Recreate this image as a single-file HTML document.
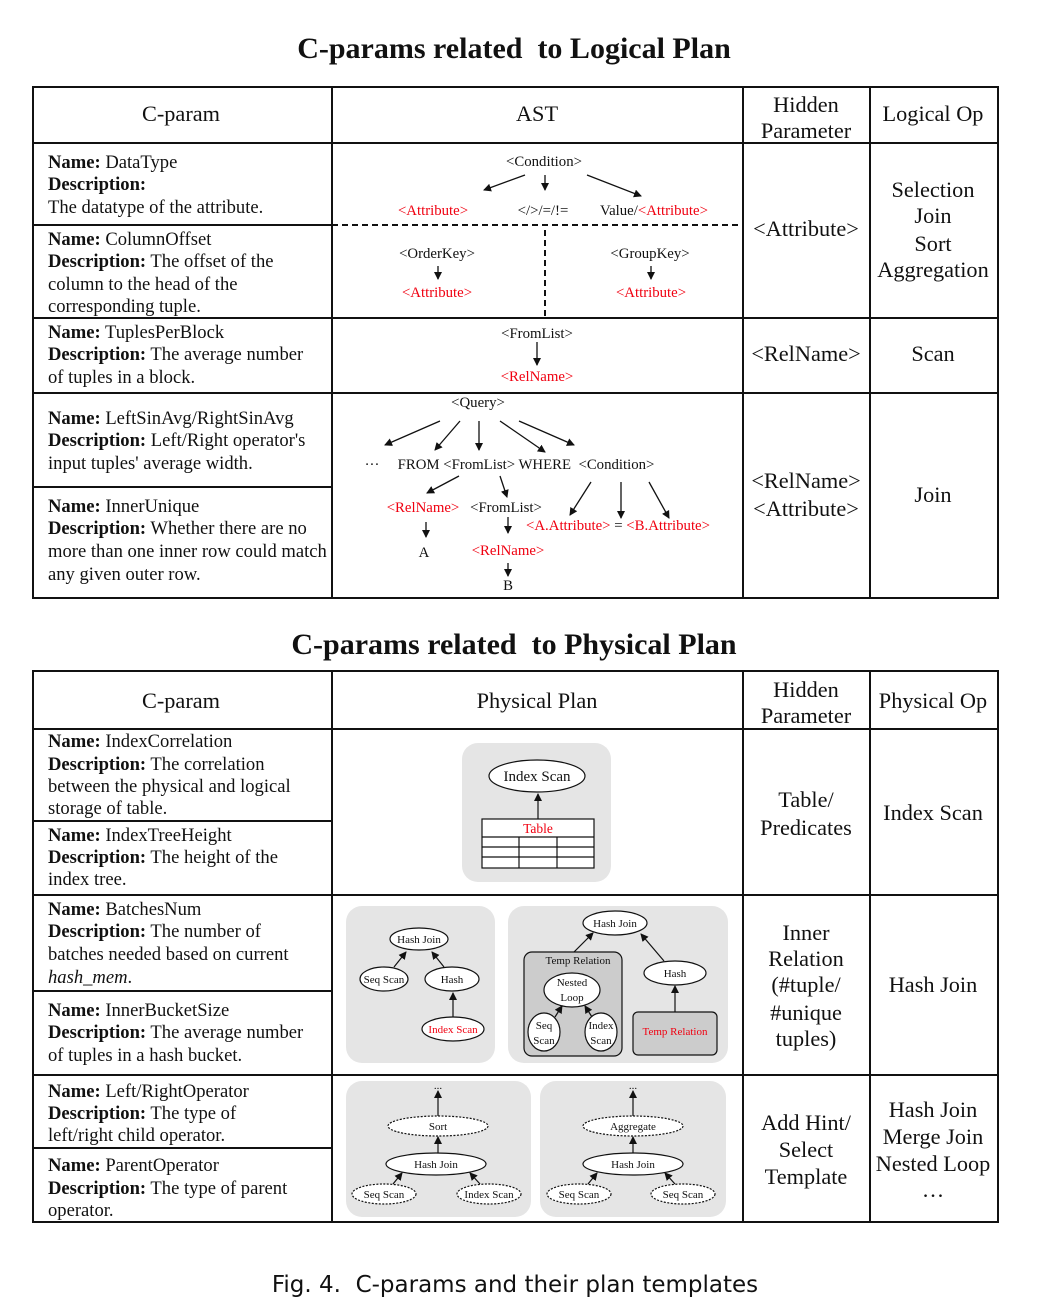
<!DOCTYPE html>
<html><head><meta charset="utf-8"><style>
html,body{margin:0;padding:0;background:#fff;}
svg{display:block;}
text{font-family:"Liberation Serif",serif;fill:#111;white-space:pre;}
.h{font-size:22.3px;text-anchor:middle;}
.l{font-size:18.6px;}
.a{font-size:14.8px;text-anchor:middle;}
.r{fill:#f00010;}
.p{font-size:11px;text-anchor:middle;}
</style></head><body>
<svg width="1054" height="1314" viewBox="0 0 1054 1314" xmlns="http://www.w3.org/2000/svg">
<defs>
<marker id="ar" markerWidth="8" markerHeight="8" refX="7" refY="4" orient="auto" markerUnits="userSpaceOnUse">
<path d="M0,0 L8,4 L0,8 z" fill="#111"/></marker>
</defs>
<text x="514" y="58" style="font-size:30px;font-weight:bold;text-anchor:middle">C-params related&#160; to Logical Plan</text>
<text x="514" y="654" style="font-size:30px;font-weight:bold;text-anchor:middle">C-params related&#160; to Physical Plan</text>
<text x="515" y="1292" style="font-family:'DejaVu Sans',sans-serif;font-size:23px;text-anchor:middle">Fig. 4.&#160; C-params and their plan templates</text>

<!-- Table 1 -->
<g stroke="#111" stroke-width="2" fill="none">
<rect x="33" y="87" width="965" height="511"/>
<line x1="332" y1="87" x2="332" y2="598"/>
<line x1="743" y1="87" x2="743" y2="598"/>
<line x1="870" y1="87" x2="870" y2="598"/>
<line x1="33" y1="143" x2="998" y2="143"/>
<line x1="33" y1="225" x2="332" y2="225"/>
<line x1="33" y1="318" x2="998" y2="318"/>
<line x1="33" y1="393" x2="998" y2="393"/>
<line x1="33" y1="487" x2="332" y2="487"/>
<line x1="332" y1="225" x2="743" y2="225" stroke-dasharray="6,4"/>
<line x1="545" y1="230" x2="545" y2="316" stroke-dasharray="6,4"/>
</g>
<text class="h" x="181" y="121">C-param</text>
<text class="h" x="537" y="121">AST</text>
<text class="h" x="806" y="112">Hidden</text>
<text class="h" x="806" y="138">Parameter</text>
<text class="h" x="933" y="121">Logical Op</text>

<text class="l" x="48" y="168"><tspan font-weight="bold">Name:</tspan> DataType</text>
<text class="l" x="48" y="190" font-weight="bold">Description:</text>
<text class="l" x="48" y="213">The datatype of the attribute.</text>
<text class="l" x="48" y="245"><tspan font-weight="bold">Name:</tspan> ColumnOffset</text>
<text class="l" x="48" y="267"><tspan font-weight="bold">Description:</tspan> The offset of the</text>
<text class="l" x="48" y="290">column to the head of the</text>
<text class="l" x="48" y="312">corresponding tuple.</text>
<text class="l" x="48" y="338"><tspan font-weight="bold">Name:</tspan> TuplesPerBlock</text>
<text class="l" x="48" y="360"><tspan font-weight="bold">Description:</tspan> The average number</text>
<text class="l" x="48" y="383">of tuples in a block.</text>
<text class="l" x="48" y="424"><tspan font-weight="bold">Name:</tspan> LeftSinAvg/RightSinAvg</text>
<text class="l" x="48" y="446"><tspan font-weight="bold">Description:</tspan> Left/Right operator's</text>
<text class="l" x="48" y="469">input tuples' average width.</text>
<text class="l" x="48" y="512"><tspan font-weight="bold">Name:</tspan> InnerUnique</text>
<text class="l" x="48" y="534"><tspan font-weight="bold">Description:</tspan> Whether there are no</text>
<text class="l" x="48" y="557">more than one inner row could match</text>
<text class="l" x="48" y="580">any given outer row.</text>

<text class="h" x="806" y="236">&lt;Attribute&gt;</text>
<text class="h" x="933" y="197">Selection</text>
<text class="h" x="933" y="223">Join</text>
<text class="h" x="933" y="251">Sort</text>
<text class="h" x="933" y="277">Aggregation</text>
<text class="h" x="806" y="361">&lt;RelName&gt;</text>
<text class="h" x="933" y="361">Scan</text>
<text class="h" x="806" y="488">&lt;RelName&gt;</text>
<text class="h" x="806" y="516">&lt;Attribute&gt;</text>
<text class="h" x="933" y="502">Join</text>

<!-- AST -->
<g stroke="#111" stroke-width="1.3" marker-end="url(#ar)">
<line x1="525" y1="175" x2="484" y2="190"/>
<line x1="545" y1="175" x2="545" y2="190"/>
<line x1="587" y1="175" x2="641" y2="196"/>
<line x1="438" y1="266" x2="438" y2="279"/>
<line x1="651" y1="266" x2="651" y2="279"/>
<line x1="537" y1="342" x2="537" y2="365"/>
<line x1="440" y1="421" x2="385" y2="445"/>
<line x1="460" y1="421" x2="435" y2="450"/>
<line x1="479" y1="421" x2="479" y2="450"/>
<line x1="500" y1="421" x2="545" y2="452"/>
<line x1="519" y1="421" x2="574" y2="445"/>
<line x1="459" y1="476" x2="427" y2="493"/>
<line x1="500" y1="476" x2="507" y2="497"/>
<line x1="426" y1="522" x2="426" y2="537"/>
<line x1="508" y1="517" x2="508" y2="533"/>
<line x1="508" y1="563" x2="508" y2="576"/>
<line x1="591" y1="482" x2="570" y2="515"/>
<line x1="621" y1="482" x2="621" y2="518"/>
<line x1="649" y1="482" x2="669" y2="518"/>
</g>
<text class="a" x="544" y="166">&lt;Condition&gt;</text>
<text class="a r" x="433" y="215">&lt;Attribute&gt;</text>
<text class="a" x="543" y="215">&lt;/&gt;/=/!=</text>
<text class="a" x="654" y="215">Value/<tspan class="r">&lt;Attribute&gt;</tspan></text>
<text class="a" x="437" y="258">&lt;OrderKey&gt;</text>
<text class="a r" x="437" y="297">&lt;Attribute&gt;</text>
<text class="a" x="650" y="258">&lt;GroupKey&gt;</text>
<text class="a r" x="651" y="297">&lt;Attribute&gt;</text>
<text class="a" x="537" y="338">&lt;FromList&gt;</text>
<text class="a r" x="537" y="381">&lt;RelName&gt;</text>
<text class="a" x="478" y="407">&lt;Query&gt;</text>
<text class="a" x="372" y="469">···</text>
<text class="a" x="526" y="469">FROM &lt;FromList&gt; WHERE  &lt;Condition&gt;</text>
<text class="a r" x="423" y="512">&lt;RelName&gt;</text>
<text class="a" x="506" y="512">&lt;FromList&gt;</text>
<text class="a" x="424" y="557">A</text>
<text class="a r" x="508" y="555">&lt;RelName&gt;</text>
<text class="a" x="508" y="590">B</text>
<text class="a" x="618" y="530"><tspan class="r">&lt;A.Attribute&gt;</tspan> = <tspan class="r">&lt;B.Attribute&gt;</tspan></text>

<!-- Table 2 -->
<g stroke="#111" stroke-width="2" fill="none">
<rect x="33" y="671" width="965" height="551"/>
<line x1="332" y1="671" x2="332" y2="1222"/>
<line x1="743" y1="671" x2="743" y2="1222"/>
<line x1="870" y1="671" x2="870" y2="1222"/>
<line x1="33" y1="729" x2="998" y2="729"/>
<line x1="33" y1="821" x2="332" y2="821"/>
<line x1="33" y1="895" x2="998" y2="895"/>
<line x1="33" y1="991" x2="332" y2="991"/>
<line x1="33" y1="1075" x2="998" y2="1075"/>
<line x1="33" y1="1148" x2="332" y2="1148"/>
</g>
<text class="h" x="181" y="708">C-param</text>
<text class="h" x="537" y="708">Physical Plan</text>
<text class="h" x="806" y="697">Hidden</text>
<text class="h" x="806" y="723">Parameter</text>
<text class="h" x="933" y="708">Physical Op</text>

<text class="l" x="48" y="747"><tspan font-weight="bold">Name:</tspan> IndexCorrelation</text>
<text class="l" x="48" y="770"><tspan font-weight="bold">Description:</tspan> The correlation</text>
<text class="l" x="48" y="792">between the physical and logical</text>
<text class="l" x="48" y="814">storage of table.</text>
<text class="l" x="48" y="841"><tspan font-weight="bold">Name:</tspan> IndexTreeHeight</text>
<text class="l" x="48" y="863"><tspan font-weight="bold">Description:</tspan> The height of the</text>
<text class="l" x="48" y="885">index tree.</text>
<text class="l" x="48" y="915"><tspan font-weight="bold">Name:</tspan> BatchesNum</text>
<text class="l" x="48" y="937"><tspan font-weight="bold">Description:</tspan> The number of</text>
<text class="l" x="48" y="960">batches needed based on current</text>
<text class="l" x="48" y="983" font-style="italic">hash_mem<tspan font-style="normal">.</tspan></text>
<text class="l" x="48" y="1016"><tspan font-weight="bold">Name:</tspan> InnerBucketSize</text>
<text class="l" x="48" y="1038"><tspan font-weight="bold">Description:</tspan> The average number</text>
<text class="l" x="48" y="1061">of tuples in a hash bucket.</text>
<text class="l" x="48" y="1097"><tspan font-weight="bold">Name:</tspan> Left/RightOperator</text>
<text class="l" x="48" y="1119"><tspan font-weight="bold">Description:</tspan> The type of</text>
<text class="l" x="48" y="1141">left/right child operator.</text>
<text class="l" x="48" y="1171"><tspan font-weight="bold">Name:</tspan> ParentOperator</text>
<text class="l" x="48" y="1194"><tspan font-weight="bold">Description:</tspan> The type of parent</text>
<text class="l" x="48" y="1216">operator.</text>

<text class="h" x="806" y="807">Table/</text>
<text class="h" x="806" y="835">Predicates</text>
<text class="h" x="933" y="820">Index Scan</text>
<text class="h" x="806" y="940">Inner</text>
<text class="h" x="806" y="966">Relation</text>
<text class="h" x="806" y="992">(#tuple/</text>
<text class="h" x="806" y="1020">#unique</text>
<text class="h" x="806" y="1046">tuples)</text>
<text class="h" x="933" y="992">Hash Join</text>
<text class="h" x="806" y="1130">Add Hint/</text>
<text class="h" x="806" y="1157">Select</text>
<text class="h" x="806" y="1184">Template</text>
<text class="h" x="933" y="1117">Hash Join</text>
<text class="h" x="933" y="1144">Merge Join</text>
<text class="h" x="933" y="1171">Nested Loop</text>
<text class="h" x="933" y="1197">…</text>

<!-- panels -->
<g fill="#e5e5e5">
<rect x="462" y="743" width="149" height="139" rx="16"/>
<rect x="346" y="906" width="149" height="157" rx="16"/>
<rect x="508" y="906" width="220" height="157" rx="16"/>
<rect x="346" y="1081" width="185" height="136" rx="16"/>
<rect x="540" y="1081" width="186" height="136" rx="16"/>
</g>
<g stroke="#111" stroke-width="1.2">
<ellipse cx="537" cy="776" rx="48" ry="16" fill="#fff"/>
<line x1="538" y1="819" x2="538" y2="794" marker-end="url(#ar)"/>
<rect x="482" y="819" width="112" height="49" fill="#fff"/>
<line x1="482" y1="837" x2="594" y2="837"/>
<line x1="482" y1="847" x2="594" y2="847"/>
<line x1="482" y1="857" x2="594" y2="857"/>
<line x1="519" y1="837" x2="519" y2="868"/>
<line x1="557" y1="837" x2="557" y2="868"/>
</g>
<text x="537" y="781" style="font-size:15px;text-anchor:middle">Index Scan</text>
<text x="538" y="833" class="r" style="font-size:13.5px;text-anchor:middle">Table</text>

<g stroke="#111" stroke-width="1.2" fill="#fff">
<ellipse cx="419" cy="939" rx="29" ry="11"/>
<ellipse cx="384" cy="979" rx="24" ry="12"/>
<ellipse cx="452" cy="979" rx="27" ry="12"/>
<ellipse cx="453" cy="1029" rx="31" ry="12"/>
<line x1="394" y1="967" x2="406" y2="952" marker-end="url(#ar)"/>
<line x1="444" y1="967" x2="432" y2="952" marker-end="url(#ar)"/>
<line x1="453" y1="1017" x2="453" y2="993" marker-end="url(#ar)"/>
</g>
<text class="p" x="419" y="943">Hash Join</text>
<text class="p" x="384" y="983">Seq Scan</text>
<text class="p" x="452" y="983">Hash</text>
<text class="p r" x="453" y="1033">Index Scan</text>

<g stroke="#111" stroke-width="1.2">
<rect x="524" y="952" width="98" height="104" rx="8" fill="#ccc"/>
<rect x="633" y="1012" width="84" height="43" rx="5" fill="#ccc"/>
<g fill="#fff">
<ellipse cx="615" cy="923" rx="32" ry="12"/>
<ellipse cx="572" cy="990" rx="28" ry="17"/>
<ellipse cx="544" cy="1032" rx="16" ry="19"/>
<ellipse cx="601" cy="1032" rx="16" ry="19"/>
<ellipse cx="675" cy="973" rx="31" ry="12"/>
</g>
<line x1="574" y1="952" x2="593" y2="933" marker-end="url(#ar)"/>
<line x1="664" y1="961" x2="641" y2="934" marker-end="url(#ar)"/>
<line x1="675" y1="1012" x2="675" y2="986" marker-end="url(#ar)"/>
<line x1="555" y1="1017" x2="562" y2="1006" marker-end="url(#ar)"/>
<line x1="592" y1="1017" x2="585" y2="1006" marker-end="url(#ar)"/>
</g>
<text class="p" x="615" y="927">Hash Join</text>
<text class="p" x="578" y="964">Temp Relation</text>
<text class="p" x="572" y="986">Nested</text>
<text class="p" x="572" y="1001">Loop</text>
<text class="p" x="544" y="1029">Seq</text>
<text class="p" x="544" y="1044">Scan</text>
<text class="p" x="601" y="1029">Index</text>
<text class="p" x="601" y="1044">Scan</text>
<text class="p" x="675" y="977">Hash</text>
<text class="p r" x="675" y="1035">Temp Relation</text>

<g stroke="#111" stroke-width="1.2" fill="#fff">
<ellipse cx="438" cy="1126" rx="50" ry="10" stroke-dasharray="2,1.5"/>
<ellipse cx="436" cy="1164" rx="50" ry="11"/>
<ellipse cx="384" cy="1194" rx="32" ry="10" stroke-dasharray="2,1.5"/>
<ellipse cx="489" cy="1194" rx="32" ry="10" stroke-dasharray="2,1.5"/>
<line x1="438" y1="1116" x2="438" y2="1091" marker-end="url(#ar)"/>
<line x1="438" y1="1153" x2="438" y2="1137" marker-end="url(#ar)"/>
<line x1="393" y1="1184" x2="402" y2="1173" marker-end="url(#ar)"/>
<line x1="480" y1="1184" x2="470" y2="1173" marker-end="url(#ar)"/>
<ellipse cx="633" cy="1126" rx="50" ry="10" stroke-dasharray="2,1.5"/>
<ellipse cx="633" cy="1164" rx="50" ry="11"/>
<ellipse cx="579" cy="1194" rx="32" ry="10" stroke-dasharray="2,1.5"/>
<ellipse cx="683" cy="1194" rx="32" ry="10" stroke-dasharray="2,1.5"/>
<line x1="633" y1="1116" x2="633" y2="1091" marker-end="url(#ar)"/>
<line x1="633" y1="1153" x2="633" y2="1137" marker-end="url(#ar)"/>
<line x1="588" y1="1184" x2="597" y2="1173" marker-end="url(#ar)"/>
<line x1="675" y1="1184" x2="665" y2="1173" marker-end="url(#ar)"/>
</g>
<text class="p" x="438" y="1089">...</text>
<text class="p" x="438" y="1130">Sort</text>
<text class="p" x="436" y="1168">Hash Join</text>
<text class="p" x="384" y="1198">Seq Scan</text>
<text class="p" x="489" y="1198">Index Scan</text>
<text class="p" x="633" y="1089">...</text>
<text class="p" x="633" y="1130">Aggregate</text>
<text class="p" x="633" y="1168">Hash Join</text>
<text class="p" x="579" y="1198">Seq Scan</text>
<text class="p" x="683" y="1198">Seq Scan</text>
</svg>
</body></html>
